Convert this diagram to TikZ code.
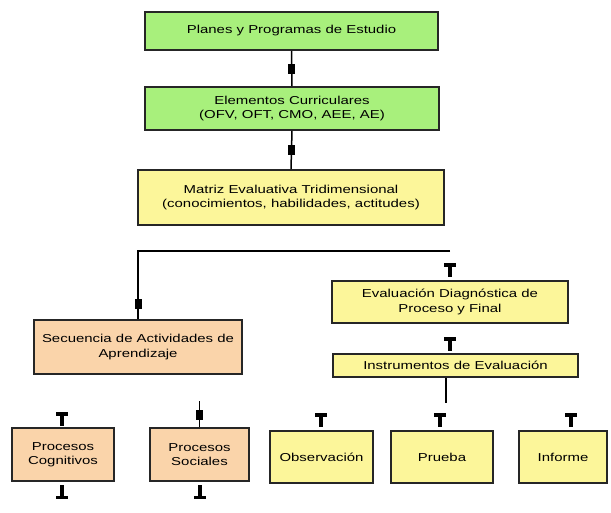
\documentclass[tikz,border=0pt]{standalone}
\usepackage{fontspec}
\usetikzlibrary{calc}
\setmainfont{Liberation Sans}[FakeStretch=1.3]
\definecolor{boxgreen}{RGB}{168,240,124}
\definecolor{boxyellow}{RGB}{252,246,154}
\definecolor{boxpeach}{RGB}{250,212,170}
\tikzset{
  box/.style={draw=black!85, line width=1.6pt, inner sep=1pt, align=center,
    font=\fontsize{11.5}{14.5}\selectfont},
  gbox/.style={box, fill=boxgreen},
  ybox/.style={box, fill=boxyellow},
  pbox/.style={box, fill=boxpeach},
  conn/.style={draw=black, line width=1.5pt},
  marker/.style={fill=black, draw=none, minimum width=7pt, minimum height=10pt, inner sep=0pt},
  tmark/.pic={\fill[black] (-6,0) rectangle (6,3.5); \fill[black] (-2.2,0) rectangle (2.2,14);},
  itmark/.pic={\fill[black] (-6,14) rectangle (6,10.5); \fill[black] (-2.2,0) rectangle (2.2,14);}
}
\begin{document}
\begin{tikzpicture}[x=1pt,y=-1pt]
\useasboundingbox (0,0) rectangle (611,512);
% boxes
\node[gbox, minimum width=293pt, minimum height=38pt] (planes) at (291.5,31) {Planes y Programas de Estudio};
\node[gbox, minimum width=294pt, minimum height=43pt] (elem) at (292,108.5) {Elementos Curriculares\\(OFV, OFT, CMO, AEE, AE)};
\node[ybox, minimum width=306pt, minimum height=55pt] (matriz) at (291,197.5) {Matriz Evaluativa Tridimensional\\(conocimientos, habilidades, actitudes)};
\node[ybox, minimum width=236pt, minimum height=42pt] (evald) at (450,302) {Evaluación Diagnóstica de\\Proceso y Final};
\node[ybox, minimum width=245pt, minimum height=23pt] (instr) at (455.5,365.5) {Instrumentos de Evaluación};
\node[pbox, minimum width=208pt, minimum height=54pt] (secu) at (138,347) {Secuencia de Actividades de\\Aprendizaje};
\node[pbox, minimum width=102pt, minimum height=53pt] (cogn) at (63,454.5) {Procesos\\Cognitivos};
\node[pbox, minimum width=99pt, minimum height=53pt] (soc) at (199.5,454.5) {Procesos\\Sociales};
\node[ybox, minimum width=103pt, minimum height=52pt] (obs) at (321.5,457) {Observación};
\node[ybox, minimum width=102pt, minimum height=52pt] (prueba) at (442,457) {Prueba};
\node[ybox, minimum width=88pt, minimum height=52pt] (inf) at (563,457) {Informe};
% connectors
\draw[conn] (planes.south) -- (elem.north) node[marker, midway] (m1) {};
\draw[conn] (elem.south) -- (matriz.north) node[marker, midway] (m2) {};
\coordinate (hl) at (secu.north |- 0,251);
\coordinate (hr) at (450,251);
\draw[conn] (hr) -- (hl) -- (secu.north);
\node[marker] (m3) at ($(hl)!0.78!(secu.north)$) {};
\coordinate (ibot) at (446,403);
\draw[conn] (instr.south -| ibot) -- (ibot);
\coordinate (stop) at (soc.north |- 0,401);
\draw[conn] (stop) -- (soc.north);
\node[marker] at (199.5,415) {};
% T marks
\pic at (450,263) {tmark};
\pic at (450,337) {tmark};
\pic at (321,413) {tmark};
\pic at (440,413) {tmark};
\pic at (571,413) {tmark};
\pic at (62,412) {tmark};
\pic at (62,485) {itmark};
\pic at (200,485) {itmark};
\end{tikzpicture}
\end{document}
